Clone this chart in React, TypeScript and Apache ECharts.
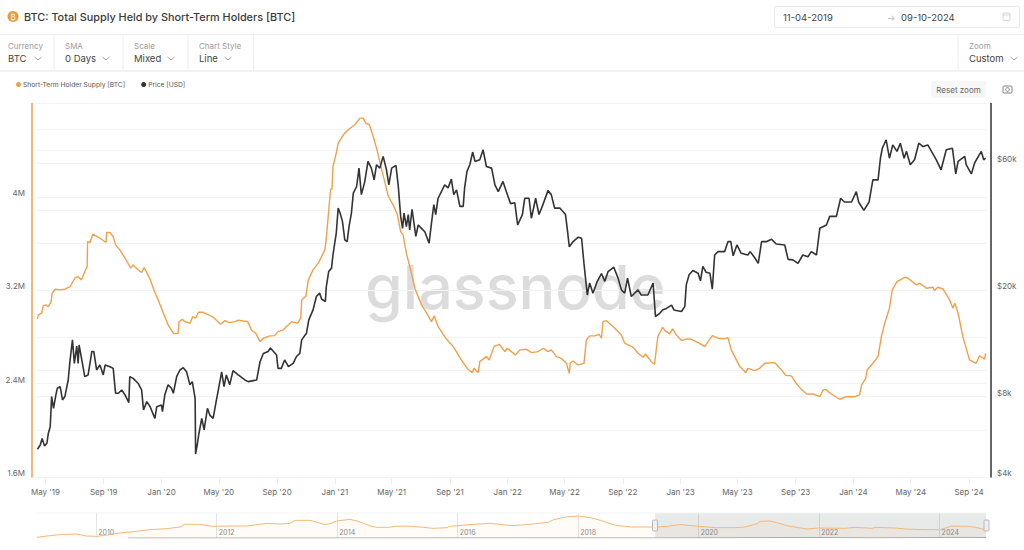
import React, { useEffect, useRef } from "react";
import * as echarts from "echarts";

const startDate = Date.UTC(2019, 3, 11);
const endDate = Date.UTC(2024, 9, 9);
const dayMs = 86400000;

const supplyDays = [3,5,12,15,20,26,32,34,41,50,61,72,82,88,96,103,108,109,114,120,132,148,149,156,163,168,177,188,200,205,216,223,228,233,240,251,258,269,279,291,300,302,309,314,325,331,337,343,353,362,374,390,399,407,420,427,447,455,464,473,480,494,504,511,522,529,540,552,559,561,570,575,585,596,610,613,617,622,625,627,634,638,649,659,673,684,691,696,704,712,720,730,737,744,754,763,770,775,782,791,800,814,823,835,841,849,867,881,898,912,921,925,934,937,951,957,967,978,990,995,1012,1022,1036,1046,1060,1071,1081,1088,1099,1109,1120,1126,1128,1134,1145,1157,1162,1169,1180,1189,1194,1197,1204,1222,1236,1243,1261,1271,1282,1287,1299,1306,1313,1323,1328,1338,1344,1352,1363,1373,1384,1398,1412,1419,1428,1440,1454,1461,1468,1486,1499,1503,1518,1528,1539,1560,1574,1583,1595,1605,1616,1627,1641,1655,1662,1667,1679,1697,1711,1729,1739,1743,1752,1755,1767,1778,1785,1792,1802,1808,1818,1834,1841,1859,1866,1880,1894,1897,1904,1915,1929,1936,1940,1947,1957,1971,1985,1992,2003,2005];
const supplyThousandBtc = [2954,2989,3003,3066,3074,3060,3103,3174,3209,3203,3209,3232,3303,3317,3289,3360,3403,3617,3609,3680,3654,3609,3695,3695,3660,3589,3546,3474,3389,3417,3374,3352,3394,3360,3303,3180,3117,3003,2903,2826,2831,2931,2951,2931,2917,2974,2960,3011,3011,2994,2969,2909,2940,2923,2931,2943,2931,2860,2831,2760,2789,2809,2811,2846,2860,2889,2931,2917,2960,3117,3151,3289,3374,3432,3546,3646,3832,4066,4066,4260,4375,4460,4532,4575,4618,4675,4675,4632,4618,4518,4403,4232,4118,4003,3932,3846,3703,3675,3517,3374,3217,3074,3017,2931,2980,2889,2780,2717,2603,2523,2494,2531,2494,2588,2631,2603,2717,2737,2674,2703,2646,2689,2694,2666,2674,2703,2674,2689,2631,2617,2574,2488,2574,2594,2560,2574,2774,2809,2809,2823,2789,2931,2940,2874,2817,2746,2711,2660,2626,2654,2588,2566,2803,2883,2854,2826,2869,2817,2769,2783,2780,2751,2717,2760,2811,2789,2783,2794,2689,2546,2494,2531,2511,2531,2574,2580,2517,2471,2466,2403,2351,2311,2311,2288,2346,2351,2311,2266,2288,2288,2303,2388,2446,2517,2574,2631,2803,2917,3046,3203,3274,3311,3303,3246,3260,3217,3226,3197,3226,3211,3117,3046,3089,3003,2803,2603,2574,2637,2609,2660];

const priceDays = [3,9,13,18,23,26,30,33,37,42,45,51,56,61,68,72,77,81,86,89,91,98,103,110,118,122,128,135,142,146,156,163,168,174,181,188,196,198,205,216,223,227,234,241,251,255,265,267,272,279,286,290,297,304,311,318,325,330,336,337,341,344,350,355,362,367,374,381,387,392,397,402,409,416,427,441,448,466,473,480,490,495,508,511,518,525,533,543,550,557,561,571,576,585,592,599,603,611,613,618,624,627,634,638,642,647,652,657,661,666,670,677,682,687,694,701,708,714,719,726,733,740,745,751,760,765,770,774,777,782,786,789,794,802,807,814,821,830,835,840,844,849,856,863,870,877,882,888,895,902,905,910,916,922,927,937,944,951,962,969,976,986,993,1002,1011,1017,1027,1032,1041,1046,1055,1062,1069,1081,1088,1095,1106,1118,1122,1126,1134,1145,1152,1157,1164,1169,1176,1185,1194,1201,1208,1220,1229,1236,1243,1249,1257,1271,1278,1292,1303,1308,1317,1323,1331,1342,1347,1352,1363,1370,1373,1379,1387,1398,1403,1408,1415,1423,1428,1433,1440,1454,1461,1467,1472,1480,1489,1503,1508,1518,1525,1532,1542,1553,1563,1581,1588,1598,1609,1619,1630,1637,1648,1655,1669,1676,1690,1699,1707,1722,1732,1737,1748,1759,1767,1778,1783,1787,1795,1802,1809,1818,1825,1833,1838,1846,1855,1864,1873,1883,1901,1911,1922,1935,1942,1947,1961,1964,1975,1982,1996,2001,2005];
const priceThousandUsd = [5.08,5.27,5.58,5.22,5.35,5.82,6.17,8,7.23,8.12,8.59,8.71,7.77,8,9.23,10.97,13.04,10.65,12.35,10.65,12.48,10.65,9.5,9.64,11.8,11.8,10.06,10.5,9.64,10.5,10.35,10.2,8.23,8.23,8.47,8.12,7.6,9.5,9.36,8.95,8.47,7.13,7.66,7.33,6.63,7.33,7.44,7.03,8.12,8.85,8.59,8.23,9.5,10.06,10.26,9.9,8.85,9.1,7.88,4.88,5.35,5.82,6.63,6,7.23,6.82,6.63,7.77,8.85,9.9,8.71,9.64,8.85,10,9.64,9.23,9.1,9.23,10.8,11.6,11.8,12.15,11.45,10.2,10.2,10.97,10.35,10.65,11.3,11.6,13.04,13.8,15.49,16.88,18.95,19.5,18.55,18.15,20.65,23.5,24.2,27.1,32.7,40.6,38.9,36.2,30.87,30.4,34.6,38.9,46.2,48.9,57.3,45.6,50.8,60.7,57.3,51.8,59,57.3,63.4,56.47,49.6,57.3,58.7,48.9,37.8,34.1,38.9,34.6,38.4,33.65,40.2,31.8,35.1,34.1,33.1,30,35.6,41.8,38.4,44.2,46.8,49.6,48.3,52.1,45.6,47.5,41.2,41.2,48.3,55.7,59,65.8,60.7,61.55,67.1,58.1,57.3,49.6,46.8,51.1,46.8,42.2,42.5,35.1,38.4,44.2,44.2,37.2,44.2,38.4,41.2,47.2,45.6,40.6,40.6,38.4,33.65,29.1,30.4,31.6,31.3,25.2,19.2,21.3,19.5,21.6,23.1,21.6,23.5,24.4,22.2,20.06,19.5,22.2,18.95,20.06,19.2,19.2,21.3,15.95,16.4,16.88,17.1,17.6,16.88,16.8,16.65,17.4,20.95,22.85,23.7,23.15,21.7,24.55,23.35,23.15,20.2,27.1,27.9,27.9,30.4,30.4,26.9,29.55,27.5,27.1,27.9,26.4,25.2,30.4,30.4,31.05,29.8,29.55,26.1,25.98,25.2,27.1,26.7,27.9,27.1,34.1,35.1,37.8,37.8,44.2,42.8,42.8,46.8,42.8,39.8,42.8,51.8,51.8,62.4,68,73.14,62.4,70,66.2,71,62.4,66.2,59,61.55,71,69,70,61.55,56.47,67.1,68,54.5,60.7,63.4,59,54.5,60,66.2,61.55,62.4];

const miniYears = [2009.01,2009.23,2009.45,2009.67,2009.84,2010.01,2010.17,2010.39,2010.62,2010.89,2011.17,2011.39,2011.47,2011.72,2011.94,2012.22,2012.5,2012.83,2013.05,2013.22,2013.3,2013.55,2013.71,2013.8,2013.88,2013.99,2014.21,2014.35,2014.54,2014.65,2014.85,2014.96,2015.15,2015.37,2015.59,2015.82,2015.87,2016.26,2016.54,2016.9,2017.12,2017.51,2017.59,2017.79,2018.01,2018.23,2018.39,2018.62,2018.89,2019.27,2019.5,2019.61,2019.72,2020,2020.28,2020.61,2020.77,2020.97,2021.02,2021.19,2021.49,2021.8,2021.99,2022.43,2022.6,2022.88,2022.93,2023.26,2023.43,2023.76,2024.01,2024.2,2024.48,2024.65,2024.77];
const miniSupplyMillionBtc = [0.18,0.63,0.99,1.08,0.54,0.45,0.81,1.35,1.71,2.25,2.52,2.97,3.69,3.69,3.15,3.24,3.24,3.96,3.78,3.96,4.77,4.77,4.05,3.6,3.87,4.59,5.04,4.5,3.33,2.88,2.88,3.15,3.24,2.97,2.61,2.79,3.15,3.69,3.96,3.33,3.6,4.23,4.95,5.67,5.94,5.4,4.68,3.42,2.97,2.97,3.15,3.51,3.6,3.15,2.79,2.79,2.97,3.87,4.5,4.59,3.24,2.43,2.7,2.61,2.88,2.61,2.88,2.7,2.43,2.25,2.25,3.24,3.15,2.7,2.16];
const miniPriceYears = [2010.53,2013.9,2017.96,2019.28,2021.85,2022.9,2024.2,2024.77];
const miniPriceUsd = [0.1,1000,17000,5000,65000,16000,70000,62000];

const monthTicks = [[2019,4],[2019,8],[2020,0],[2020,4],[2020,8],[2021,0],[2021,4],[2021,8],[2022,0],[2022,4],[2022,8],[2023,0],[2023,4],[2023,8],[2024,0],[2024,4],[2024,8]].map(([y, m]) => Date.UTC(y, m, 1));
const monthNames = ["Jan","Feb","Mar","Apr","May","Jun","Jul","Aug","Sep","Oct","Nov","Dec"];
const supplyLabels = [1600, 2400, 3200, 4000];
const priceLabels = [4, 8, 20, 60];
const priceGrid = [4, 8, 10, 20, 40, 60, 80, 100];
const yearTicks = [2010, 2012, 2014, 2016, 2018, 2020, 2022, 2024];

const FONT = "Inter, 'Noto Sans', sans-serif";
const ORANGE = "#f0a04b";
const DARK = "#333333";

function label(x: number, y: number, text: string, size: number, fill: string, extra: any = {}) {
  return { type: "text", x, y, z: 10, style: { text, fontSize: size, fill, fontFamily: FONT, verticalAlign: "middle", align: "left", ...extra } };
}
function hline(x1: number, x2: number, y: number, stroke: string, lineWidth = 1) {
  return { type: "line", z: 10, shape: { x1, y1: y, x2, y2: y }, style: { stroke, lineWidth } };
}
function vline(x: number, y1: number, y2: number, stroke: string, lineWidth = 1) {
  return { type: "line", z: 10, shape: { x1: x, y1, x2: x, y2 }, style: { stroke, lineWidth } };
}
function chevron(x: number, y: number) {
  return { type: "polyline", z: 10, shape: { points: [[x - 3.5, y - 1.5], [x, y + 1.5], [x + 3.5, y - 1.5]] }, style: { stroke: "#888", lineWidth: 0.8, fill: "none" } };
}

function chrome(): any[] {
  const controls: [number, string, string, number][] = [
    [8, "Currency", "BTC", 38],
    [65, "SMA", "0 Days", 106],
    [134, "Scale", "Mixed", 171],
    [199, "Chart Style", "Line", 228],
    [969, "Zoom", "Custom", 1014],
  ];
  return [
    { type: "text", x: 365, y: 287, z: 0, style: { text: "glassnode", fontSize: 61, fontWeight: 500, fill: "#dadada", fontFamily: FONT, verticalAlign: "middle", align: "left", opacity: 0.95 } },
    { type: "circle", z: 10, shape: { cx: 13, cy: 16.5, r: 5.5 }, style: { fill: "#f09a37" } },
    label(13, 16.5, "₿", 8, "#fff", { align: "center" }),
    label(24, 16.5, "BTC: Total Supply Held by Short-Term Holders [BTC]", 10.85, "#3a3a3a", { fontWeight: 500 }),
    hline(0, 1024, 34.5, "#eeeeee"),
    hline(0, 1024, 71, "#eeeeee", 1.5),
    vline(54, 35, 70, "#eeeeee"),
    vline(123, 35, 70, "#eeeeee"),
    vline(188, 35, 70, "#eeeeee"),
    vline(253.5, 35, 70, "#eeeeee"),
    vline(958, 35, 70, "#eeeeee"),
    ...controls.flatMap(([x, top, value, cx]) => [
      label(x, 45.5, top, 8, "#9a9a9a"),
      label(x, 58.5, value, 9.5, "#444"),
      chevron(cx, 58.5),
    ]),
    { type: "rect", z: 10, shape: { x: 774.5, y: 6.5, width: 245, height: 21, r: 2 }, style: { fill: "#fff", stroke: "#e8e8e8" } },
    label(783, 17, "11-04-2019", 9.5, "#444"),
    label(887, 17, "→", 9, "#bbb"),
    label(901, 17, "09-10-2024", 9.5, "#444"),
    { type: "rect", z: 10, shape: { x: 1003, y: 13, width: 7, height: 7.5, r: 1 }, style: { fill: "none", stroke: "#ccc", lineWidth: 0.8 } },
    hline(1003, 1010, 15, "#ccc", 0.8),
    { type: "rect", z: 10, shape: { x: 931, y: 81, width: 55, height: 17, r: 2 }, style: { fill: "#f7f7f7" } },
    label(958.5, 89.5, "Reset zoom", 8, "#666", { align: "center" }),
    { type: "rect", z: 10, shape: { x: 1003, y: 86, width: 9, height: 7, r: 1 }, style: { fill: "none", stroke: "#666", lineWidth: 0.8 } },
    { type: "circle", z: 10, shape: { cx: 1007.5, cy: 89.5, r: 1.8 }, style: { fill: "none", stroke: "#666", lineWidth: 0.8 } },
    hline(36, 986, 513, "#f3f3f3"),
    { type: "rect", z: 10, shape: { x: 652.5, y: 520, width: 5, height: 11, r: 1 }, style: { fill: "#f0f0f0", stroke: "#aaa", lineWidth: 0.8 } },
    { type: "rect", z: 10, shape: { x: 984, y: 520, width: 5, height: 11, r: 1 }, style: { fill: "#f0f0f0", stroke: "#aaa", lineWidth: 0.8 } },
  ];
}

export default function App() {
  const ref = useRef<HTMLDivElement>(null);
  useEffect(() => {
    document.body.style.margin = "0";
    const chart = echarts.init(ref.current!, undefined, { renderer: "svg" });
    const tickText = { color: "#666", fontSize: 8, fontFamily: FONT };
    chart.setOption({
      animation: false,
      backgroundColor: "#fff",
      textStyle: { fontFamily: FONT },
      legend: {
        data: ["Short-Term Holder Supply [BTC]", "Price [USD]"],
        left: 11,
        top: 76,
        icon: "circle",
        itemWidth: 5,
        itemHeight: 5,
        itemGap: 16,
        textStyle: { color: "#555", fontSize: 6.7, fontFamily: FONT, padding: [0, 0, 0, -3] },
      },
      grid: [
        { left: 36, right: 37, top: 103.5, bottom: 73 },
        { left: 36, right: 38, top: 513, bottom: 12 },
      ],
      xAxis: [
        {
          type: "value",
          gridIndex: 0,
          min: startDate,
          max: endDate,
          axisLine: { lineStyle: { color: "#e8e8e8" } },
          axisTick: { show: true, length: 7, lineStyle: { color: "#eeeeee" }, customValues: monthTicks },
          splitLine: { show: false },
          axisLabel: {
            ...tickText,
            margin: 11,
            customValues: monthTicks,
            hideOverlap: false,
            formatter: (v: number) => {
              const d = new Date(v);
              return `${monthNames[d.getUTCMonth()]} '${String(d.getUTCFullYear()).slice(2)}`;
            },
          },
        },
        {
          type: "value",
          gridIndex: 1,
          min: 2009,
          max: 2024.77,
          axisLine: { show: false },
          axisTick: { show: false, customValues: yearTicks },
          splitLine: { show: true, lineStyle: { color: "#e4e4e4" } },
          axisLabel: { inside: true, align: "left", margin: 2, padding: [0, 0, 0, 2], color: "#888", fontSize: 7, fontFamily: FONT, customValues: yearTicks, formatter: (v: number) => String(v) },
        },
      ],
      yAxis: [
        {
          type: "value",
          gridIndex: 0,
          min: 1600,
          max: 4800,
          interval: 400,
          offset: 4,
          axisLine: { show: true, lineStyle: { color: ORANGE, width: 1.5 } },
          axisTick: { show: false },
          splitLine: { show: true, lineStyle: { color: "#f3f3f3" } },
          axisLabel: {
            ...tickText,
            margin: 7,
            verticalAlign: "bottom",
            lineHeight: 8,
            customValues: supplyLabels,
            formatter: (v: number) => `${Number((v / 1000).toFixed(1))}M`,
          },
        },
        {
          type: "log",
          gridIndex: 0,
          logBase: 10,
          position: "right",
          min: 4,
          max: 100,
          offset: 4,
          axisLine: { show: true, lineStyle: { color: DARK, width: 1.5 } },
          axisTick: { show: false },
          splitLine: { show: false },
          axisLabel: {
            ...tickText,
            margin: 6,
            verticalAlign: "bottom",
            lineHeight: 8,
            customValues: priceLabels,
            formatter: (v: number) => `$${Math.round(v)}k`,
          },
        },
        { type: "value", gridIndex: 1, min: 0, max: 6.75, show: false },
        { type: "value", gridIndex: 1, min: 0, max: 3000000, show: false },
      ],
      series: [
        {
          name: "Short-Term Holder Supply [BTC]",
          type: "line",
          xAxisIndex: 0,
          yAxisIndex: 0,
          showSymbol: false,
          symbol: "circle",
          lineStyle: { color: ORANGE, width: 1.4 },
          itemStyle: { color: ORANGE },
          data: supplyDays.map((d, i) => [startDate + d * dayMs, supplyThousandBtc[i]]),
          z: 3,
        },
        {
          name: "Price [USD]",
          type: "line",
          xAxisIndex: 0,
          yAxisIndex: 1,
          showSymbol: false,
          symbol: "circle",
          lineStyle: { color: DARK, width: 1.6 },
          itemStyle: { color: DARK },
          data: priceDays.map((d, i) => [startDate + d * dayMs, priceThousandUsd[i]]),
          markLine: {
            silent: true,
            symbol: "none",
            label: { show: false },
            lineStyle: { color: "#f3f3f3", width: 1, type: "solid" },
            data: priceGrid.map((v) => ({ yAxis: v })),
            z: 1,
          },
          z: 4,
        },
        {
          name: "mini supply",
          type: "line",
          xAxisIndex: 1,
          yAxisIndex: 2,
          showSymbol: false,
          lineStyle: { color: "#f4b877", width: 1 },
          areaStyle: { color: "rgba(247,160,70,0.06)" },
          data: miniYears.map((y, i) => [y, miniSupplyMillionBtc[i]]),
          markArea: {
            silent: true,
            itemStyle: { color: "rgba(120,128,125,0.17)" },
            data: [[{ xAxis: 2019.28 }, { xAxis: 2024.77 }]],
          },
        },
        {
          name: "mini price",
          type: "line",
          xAxisIndex: 1,
          yAxisIndex: 3,
          showSymbol: false,
          lineStyle: { color: "#aaa", width: 1 },
          data: miniPriceYears.map((y, i) => [y, miniPriceUsd[i]]),
        },
      ],
      graphic: { elements: chrome() },
    });
    return () => chart.dispose();
  }, []);
  return <div ref={ref} style={{ width: 1024, height: 550 }} />;
}
